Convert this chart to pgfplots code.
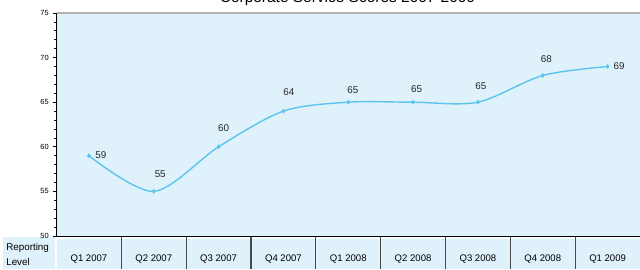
\documentclass[border=0pt]{standalone}
\usepackage{pgfplots}
\pgfplotsset{compat=1.18}
\usepackage{pgfplotstable}
\usepackage{fontspec}
\setmainfont{Liberation Sans}
\definecolor{plotbg}{HTML}{DFF1FA}
\definecolor{linec}{HTML}{5BC5F0}
\definecolor{sepc}{HTML}{4A4A4A}

\pgfplotstableread{
x y dx dy lab
0 59 12 1 59
1 55 6.5 17 55
2 60 5 18.5 60
3 64 5.5 19 64
4 65 4.5 12 65
5 65 3.5 13.5 65
6 65 3 16 65
7 68 3.5 16.5 68
8 69 11.5 0.5 69
}\scores

\begin{document}
\begin{tikzpicture}
\path[use as bounding box] (0,0) rectangle (16cm,6.725cm);
\clip (0,0) rectangle (16cm,6.725cm);
% table cells
\fill[plotbg] (1.425cm,0) rectangle (16cm,0.75cm);
\fill[plotbg] (0.075cm,0) rectangle (1.375cm,0.8cm);
\node[anchor=west, align=left, font=\fontsize{7}{10.6}\selectfont, inner sep=0] at (0.15cm,0.3625cm) {Reporting\\Level};
% title
\node[anchor=base, font=\fontsize{11}{13}\selectfont, inner sep=0] at (8.6875cm,6.6625cm) {Corporate Service Scores 2007-2009};
\foreach \b in {3.0333,4.6542,6.275,7.8958,9.5167,11.1375,12.7583,14.3792} {
  \draw[sepc, line width=0.8pt] (\b cm,0) -- (\b cm,0.825cm);
}
\begin{axis}[
  at={(1.4125cm,0.825cm)}, anchor=south west,
  scale only axis, width=14.5875cm, height=5.575cm,
  xmin=-0.5, xmax=8.5, ymin=50, ymax=75,
  axis background/.style={fill=plotbg},
  axis x line*=bottom, axis y line*=left,
  axis line style={black, line width=0.6pt},
  clip=false,
  xtick={0,...,8},
  xticklabels={Q1 2007,Q2 2007,Q3 2007,Q4 2007,Q1 2008,Q2 2008,Q3 2008,Q4 2008,Q1 2009},
  major x tick style={draw=none},
  xticklabel style={anchor=center, yshift=-0.475cm, font=\fontsize{6.8}{8}\selectfont},
  ytick={50,55,...,75},
  minor y tick num=4,
  tick align=outside,
  major tick length=0.1cm, minor tick length=0.06cm,
  y tick style={black, line width=0.5pt},
  yticklabel style={font=\fontsize{5.3}{6}\selectfont, xshift=0.03cm},
  /pgf/number format/assume math mode=true,
]
\addplot[smooth, tension=0.5, color=linec, line width=1pt, mark=diamond*, mark size=1.4pt,
  mark options={fill=linec, draw=linec, line width=0.4pt},
  point meta=explicit symbolic,
  visualization depends on={\thisrow{dx}\as\dx},
  visualization depends on={\thisrow{dy}\as\dy},
  nodes near coords,
  every node near coord/.append style={anchor=center, text=black!85, font=\fontsize{7}{8}\selectfont, xshift=\dx*0.025cm, yshift=\dy*0.025cm}
] table[x=x, y=y, meta=lab] {\scores};
\draw[gray!60, line width=0.8pt] (rel axis cs:0,1) -- (rel axis cs:1,1);
\end{axis}
\end{tikzpicture}
\end{document}
